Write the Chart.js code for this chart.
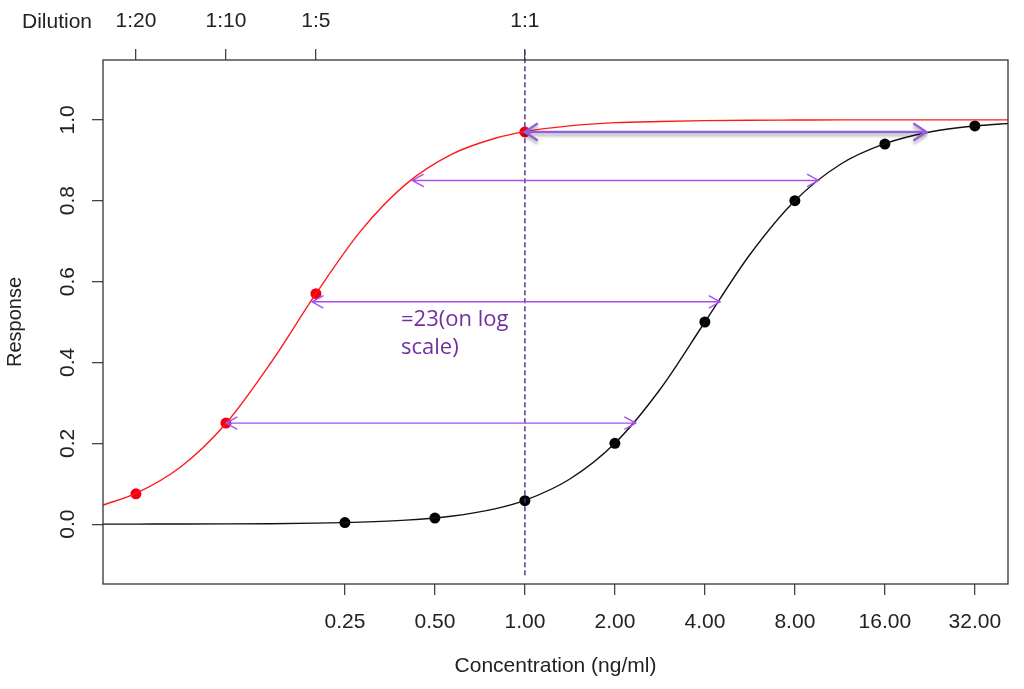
<!DOCTYPE html>
<html>
<head>
<meta charset="utf-8">
<title>Dose response</title>
<script src="https://cdn.jsdelivr.net/npm/chart.js@4"></script>
<style>
  html, body { margin:0; padding:0; background:#fff; }
  #wrap { width:1024px; height:689px; position:relative; }
</style>
</head>
<body>
<div id="wrap"><canvas id="chart"></canvas></div>
<script>
// ── data ──
const xMin = 0.0388, xMax = 41.3;
const yMin = -0.148, yMax = 1.148;

const concTicks = [0.25, 0.5, 1, 2, 4, 8, 16, 32];
const yTicks = [0, 0.2, 0.4, 0.6, 0.8, 1.0];
const dilutionValues = [0.05, 0.1, 0.2, 1];
const dilutionLabels = ['1:20', '1:10', '1:5', '1:1'];

// measured points
const redX = [0.05, 0.1, 0.2, 1];
const redY = [0.075, 0.25, 0.57, 0.97];
const blackX = [0.25, 0.5, 1, 2, 4, 8, 16, 32];
const blackY = [0.004, 0.015, 0.058, 0.2, 0.5, 0.8, 0.94, 0.985];

// fitted curves
const curveX = [0.0388, 0.05, 0.0707, 0.1, 0.141, 0.2, 0.283, 0.4, 0.566, 0.8, 1, 1.41, 2, 2.83, 4, 5.66, 8, 11.3, 16, 22.6, 32, 41.3];
const redCurve = [0.047, 0.076, 0.142, 0.249, 0.398, 0.57, 0.726, 0.841, 0.914, 0.955, 0.971, 0.985, 0.993, 0.996, 0.998, 0.999, 0.9995, 1.0, 1.0, 1.0, 1.0, 1.0];
const blackCurve = [0.0001, 0.0002, 0.0003, 0.0006, 0.0012, 0.0025, 0.005, 0.0099, 0.0196, 0.0385, 0.0588, 0.111, 0.2, 0.333, 0.5, 0.667, 0.8, 0.889, 0.941, 0.97, 0.985, 0.991];

// horizontal double arrows (shift ~23x)
const arrowY = [0.97, 0.85, 0.55, 0.25];
const arrowFrom = [1, 0.42, 0.194, 0.1];
const arrowTo = [22, 9.6, 4.5, 2.35];

const refLineX = 1;
const noteLines = ['=23(on log', 'scale)'];

const FAMILY = '"Liberation Sans", Arial, sans-serif';
const TICK_FONT = { family: FAMILY, size: 21 };
const TITLE_FONT = { family: FAMILY, size: 21 };
const INK = '#222';

const pts = (xs, ys) => xs.map((x, i) => ({ x, y: ys[i] }));

// ── extras: frame, rotated y labels, arrows, note ──
const extras = {
  id: 'extras',
  afterDatasetsDraw(chart) {
    const { ctx, scales } = chart;
    const xs = scales.x, ys = scales.y;
    ctx.save();

    // reference dashed line at 1:1
    const rx = xs.getPixelForValue(refLineX);
    ctx.strokeStyle = '#4b2a8f';
    ctx.lineWidth = 1.4;
    ctx.setLineDash([5, 3]);
    ctx.beginPath();
    ctx.moveTo(rx, ys.getPixelForValue(1.172));
    ctx.lineTo(rx, ys.getPixelForValue(-0.128));
    ctx.stroke();
    ctx.setLineDash([]);

    // arrows
    arrowY.forEach((yv, i) => {
      const y = ys.getPixelForValue(yv);
      const x1 = xs.getPixelForValue(arrowFrom[i]);
      const x2 = xs.getPixelForValue(arrowTo[i]);
      const bold = i === 0;
      ctx.save();
      if (bold) {
        ctx.shadowColor = 'rgba(0,0,0,0.3)';
        ctx.shadowBlur = 3;
        ctx.shadowOffsetY = 3;
      }
      ctx.strokeStyle = bold ? '#9461d6' : '#a64ff0';
      ctx.lineWidth = bold ? 2.6 : 1.4;
      ctx.lineCap = 'round';
      const hl = bold ? 12 : 11, hw = bold ? 8 : 6;
      ctx.beginPath();
      ctx.moveTo(x1, y); ctx.lineTo(x2, y);
      ctx.moveTo(x1 + hl, y - hw); ctx.lineTo(x1, y); ctx.lineTo(x1 + hl, y + hw);
      ctx.moveTo(x2 - hl, y - hw); ctx.lineTo(x2, y); ctx.lineTo(x2 - hl, y + hw);
      ctx.stroke();
      ctx.restore();
    });

    // note
    ctx.fillStyle = '#7030a0';
    ctx.font = '22px "Open Sans", sans-serif';
    ctx.textAlign = 'left';
    ctx.textBaseline = 'middle';
    noteLines.forEach((t, i) => ctx.fillText(t, 401, 320 + i * 28));
    ctx.restore();
  },
  afterDraw(chart) {
    const { ctx, chartArea: a, scales } = chart;
    ctx.save();
    // plot box
    ctx.strokeStyle = '#333';
    ctx.lineWidth = 1.3;
    ctx.strokeRect(a.left, a.top, a.right - a.left, a.bottom - a.top);

    // rotated y tick labels (R style)
    ctx.fillStyle = INK;
    ctx.font = `21px ${FAMILY}`;
    ctx.textAlign = 'center';
    ctx.textBaseline = 'middle';
    yTicks.forEach(v => {
      const y = scales.y.getPixelForValue(v);
      ctx.save();
      ctx.translate(68, y);
      ctx.rotate(-Math.PI / 2);
      ctx.fillText(v.toFixed(1), 0, 0);
      ctx.restore();
    });

    // top axis caption
    ctx.fillText('Dilution', 57, 22);
    ctx.restore();
  }
};

new Chart(document.getElementById('chart'), {
  type: 'line',
  data: {
    datasets: [
      { label: 'red fit', data: pts(curveX, redCurve), borderColor: '#ff1a1a', borderWidth: 1.4, pointRadius: 0, cubicInterpolationMode: 'monotone', fill: false },
      { label: 'black fit', data: pts(curveX, blackCurve), borderColor: '#111', borderWidth: 1.4, pointRadius: 0, cubicInterpolationMode: 'monotone', fill: false },
      { label: 'red points', data: pts(redX, redY), showLine: false, pointRadius: 5.5, pointBackgroundColor: '#f00010', pointBorderWidth: 0, borderColor: '#f00010' },
      { label: 'black points', data: pts(blackX, blackY), showLine: false, pointRadius: 5.5, pointBackgroundColor: '#000', pointBorderWidth: 0, borderColor: '#000' },
    ],
  },
  options: {
    responsive: true, maintainAspectRatio: false, animation: false,
    layout: { padding: { top: 0, left: 0, right: 16, bottom: 0 } },
    plugins: { legend: { display: false }, tooltip: { enabled: false } },
    scales: {
      x: {
        type: 'logarithmic', position: 'bottom', min: xMin, max: xMax,
        afterBuildTicks: s => { s.ticks = concTicks.map(v => ({ value: v })); },
        afterFit: s => { s.height = 105; },
        border: { display: false },
        grid: { drawOnChartArea: false, drawTicks: true, tickLength: 11, color: '#444', lineWidth: 1.3 },
        ticks: { autoSkip: false, maxRotation: 0, minRotation: 0, padding: 15, color: INK, font: TICK_FONT, callback: v => Number(v).toFixed(2) },
        title: { display: true, text: 'Concentration (ng/ml)', color: INK, font: TITLE_FONT, padding: { top: 0, bottom: 10 } },
      },
      x2: {
        type: 'logarithmic', position: 'top', min: xMin, max: xMax,
        afterBuildTicks: s => { s.ticks = dilutionValues.map(v => ({ value: v })); },
        afterFit: s => { s.height = 60; },
        border: { display: false },
        grid: { drawOnChartArea: false, drawTicks: true, tickLength: 11, color: '#444', lineWidth: 1.3 },
        ticks: { autoSkip: false, maxRotation: 0, minRotation: 0, padding: 15, color: INK, font: TICK_FONT, callback: (v, i) => dilutionLabels[i] },
      },
      y: {
        type: 'linear', position: 'left', min: yMin, max: yMax,
        afterBuildTicks: s => { s.ticks = yTicks.map(v => ({ value: v })); },
        afterFit: s => { s.width = 103; },
        border: { display: false },
        grid: { drawOnChartArea: false, drawTicks: true, tickLength: 11, color: '#444', lineWidth: 1.3 },
        ticks: { display: false },
        title: { display: true, text: 'Response', color: INK, font: { family: FAMILY, size: 20 }, padding: { top: 3, bottom: 0 } },
      },
    },
  },
  plugins: [extras],
});
</script>
</body>
</html>
